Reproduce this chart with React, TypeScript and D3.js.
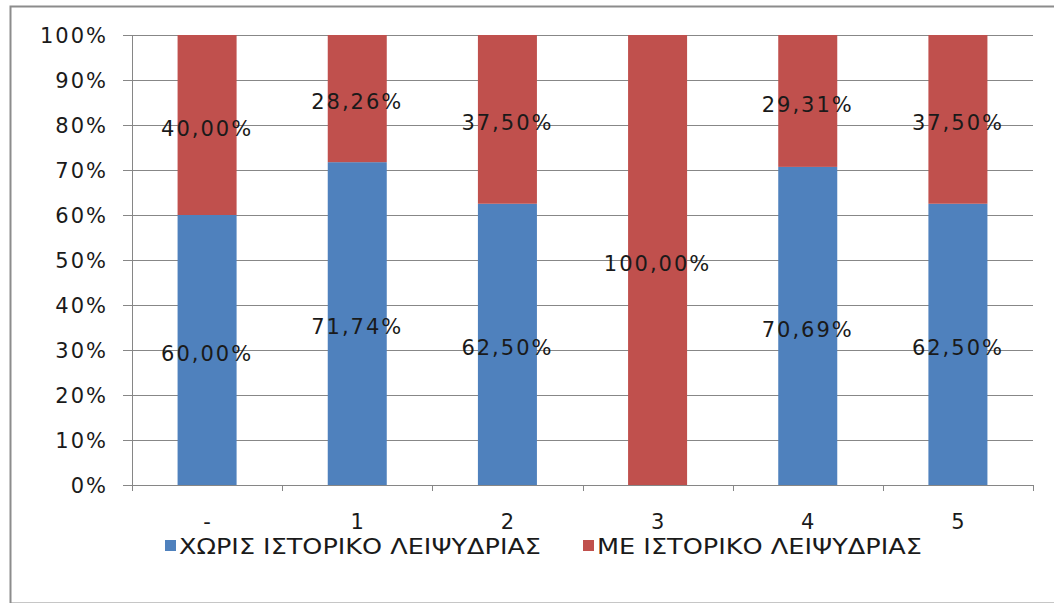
import React, { useEffect, useRef } from "react";
import * as d3 from "d3";

const categories = ["-", "1", "2", "3", "4", "5"];
const withoutHistory = [60.0, 71.74, 62.5, 0, 70.69, 62.5];
const withHistory = [40.0, 28.26, 37.5, 100.0, 29.31, 37.5];
const seriesNames = ["ΧΩΡΙΣ ΙΣΤΟΡΙΚΟ ΛΕΙΨΥΔΡΙΑΣ", "ΜΕ ΙΣΤΟΡΙΚΟ ΛΕΙΨΥΔΡΙΑΣ"];
const yTicks = [0, 10, 20, 30, 40, 50, 60, 70, 80, 90, 100];

const colors = ["#4F81BD", "#C0504D"];
const font = "'DejaVu Sans', Verdana, sans-serif";

export default function App() {
  const ref = useRef<SVGSVGElement>(null);

  useEffect(() => {
    const svg = d3.select(ref.current);
    svg.selectAll("*").remove();

    const width = 1054, height = 603;
    const margin = { top: 35, right: 21, bottom: 118, left: 132 };

    const x = d3.scaleBand<string>()
      .domain(categories)
      .range([margin.left, width - margin.right])
      .paddingInner(0.607)
      .paddingOuter(0.3035);
    const y = d3.scaleLinear().domain([0, 100]).range([height - margin.bottom, margin.top]);

    // background + outer frame
    svg.append("rect").attr("x", 0).attr("y", 0).attr("width", width).attr("height", height).attr("fill", "#fff");
    svg.append("rect")
      .attr("x", 10.5).attr("y", 6.5)
      .attr("width", width - 8).attr("height", height - 6)
      .attr("fill", "none").attr("stroke", "#8c8c8c").attr("stroke-width", 2);

    // gridlines
    svg.append("g")
      .selectAll("line")
      .data(yTicks)
      .enter()
      .append("line")
      .attr("x1", margin.left - 9)
      .attr("x2", width - margin.right)
      .attr("y1", d => Math.round(y(d)) + 0.5)
      .attr("y2", d => Math.round(y(d)) + 0.5)
      .attr("stroke", "#878787")
      .attr("stroke-width", 1);

    // y tick labels
    svg.append("g")
      .selectAll("text")
      .data(yTicks)
      .enter()
      .append("text")
      .attr("x", 108)
      .attr("y", d => y(d))
      .attr("dy", "0.36em")
      .attr("text-anchor", "end")
      .style("font-family", font)
      .style("font-size", "21px")
      .style("letter-spacing", "2px")
      .attr("fill", "#1a1a1a")
      .text(d => d + "%");

    // stacked bars
    const rows = categories.map((c, i) => ({ cat: c, a: withoutHistory[i], b: withHistory[i] }));
    const stack = d3.stack<any>().keys(["a", "b"])(rows);
    const layers = svg.append("g")
      .selectAll("g")
      .data(stack)
      .enter()
      .append("g")
      .attr("fill", (_, i) => colors[i]);
    layers.selectAll("rect")
      .data(d => d)
      .enter()
      .append("rect")
      .attr("x", d => x(d.data.cat)!)
      .attr("width", x.bandwidth())
      .attr("y", d => y(d[1]))
      .attr("height", d => y(d[0]) - y(d[1]));

    // axes lines
    const axisColor = "#868686";
    svg.append("line")
      .attr("x1", margin.left + 0.5).attr("x2", margin.left + 0.5)
      .attr("y1", margin.top).attr("y2", height - margin.bottom + 6)
      .attr("stroke", axisColor);
    svg.append("line")
      .attr("x1", margin.left).attr("x2", width - margin.right)
      .attr("y1", height - margin.bottom + 0.5).attr("y2", height - margin.bottom + 0.5)
      .attr("stroke", axisColor);
    const step = x.step();
    svg.append("g")
      .selectAll("line")
      .data(d3.range(categories.length + 1))
      .enter()
      .append("line")
      .attr("x1", i => Math.round(margin.left + i * step) + 0.5)
      .attr("x2", i => Math.round(margin.left + i * step) + 0.5)
      .attr("y1", height - margin.bottom)
      .attr("y2", height - margin.bottom + 6)
      .attr("stroke", axisColor);

    // x labels
    svg.append("g")
      .selectAll("text")
      .data(categories)
      .enter()
      .append("text")
      .attr("x", d => x(d)! + x.bandwidth() / 2)
      .attr("y", 521)
      .attr("dy", "0.36em")
      .attr("text-anchor", "middle")
      .style("font-family", font)
      .style("font-size", "21px")
      .attr("fill", "#1a1a1a")
      .text(d => d);

    // value labels
    const fmt = (v: number) => v.toFixed(2).replace(".", ",") + "%";
    stack.forEach(layer => {
      svg.append("g")
        .selectAll("text")
        .data(layer.filter(d => d[1] - d[0] > 0))
        .enter()
        .append("text")
        .attr("x", d => x(d.data.cat)! + x.bandwidth() / 2)
        .attr("y", d => y((d[0] + d[1]) / 2) + 3)
        .attr("dy", "0.36em")
        .attr("text-anchor", "middle")
        .style("font-family", font)
        .style("font-size", "21px")
        .style("letter-spacing", "2px")
        .attr("fill", "#1a1a1a")
        .text(d => fmt(d[1] - d[0]));
    });

    // legend
    const legendX = [165, 583];
    const legendLen = [362, 325];
    const lg = svg.append("g");
    seriesNames.forEach((name, i) => {
      lg.append("rect")
        .attr("x", legendX[i]).attr("y", 540)
        .attr("width", 11).attr("height", 11)
        .attr("fill", colors[i]);
      lg.append("text")
        .attr("x", legendX[i] + 14)
        .attr("y", 546)
        .attr("dy", "0.36em")
        .attr("textLength", legendLen[i])
        .attr("lengthAdjust", "spacingAndGlyphs")
        .style("font-family", font)
        .style("font-size", "21px")
        .attr("fill", "#1a1a1a")
        .text(name);
    });
  }, []);

  return (
    <div style={{ position: "absolute", left: 0, top: 0 }}>
      <svg ref={ref} width={1054} height={603} style={{ display: "block" }}></svg>
    </div>
  );
}
